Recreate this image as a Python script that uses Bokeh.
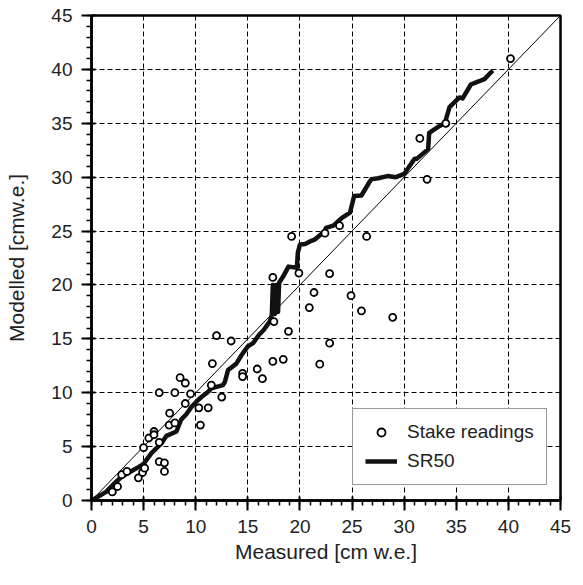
from bokeh.plotting import figure
from bokeh.models import SingleIntervalTicker, Legend, LegendItem, Range1d
from bokeh.embed import file_html
from bokeh.resources import INLINE

# Stake readings (measured, modelled) [cm w.e.]
stake_measured = [2.0, 2.5, 2.9, 3.4, 4.5, 4.9, 5.1, 5.0, 5.5, 6.0, 6.0, 6.5, 6.5, 7.0, 7.0,
                  7.5, 7.45, 8.0, 6.5, 8.0, 8.5, 9.0, 9.5, 9.0, 10.3, 10.45, 11.2, 11.5,
                  11.6, 12.0, 13.4, 12.5, 14.5, 14.5, 15.9, 16.4, 17.4, 18.4, 17.5, 18.9,
                  17.4, 19.9, 19.2, 21.35, 20.9, 22.85, 22.85, 21.9, 22.4, 23.8, 26.4, 24.9,
                  25.9, 28.9, 31.5, 32.2, 34.0, 40.2]
stake_modelled = [0.8, 1.3, 2.4, 2.7, 2.1, 2.6, 3.0, 4.9, 5.8, 6.4, 6.1, 5.4, 3.6, 3.5, 2.7,
                  8.1, 7.0, 7.2, 10.0, 10.0, 11.4, 10.9, 9.9, 9.0, 8.6, 7.0, 8.6, 10.7,
                  12.7, 15.3, 14.8, 9.6, 11.8, 11.5, 12.2, 11.3, 12.9, 13.1, 16.6, 15.7,
                  20.7, 21.1, 24.5, 19.3, 17.9, 21.05, 14.6, 12.65, 24.8, 25.5, 24.5, 19.0,
                  17.6, 17.0, 33.6, 29.8, 35.0, 41.0]

# SR50 continuous record (measured, modelled) [cm w.e.]
sr50_measured = [0.0, 0.7, 1.4, 2.2, 2.9, 3.6, 4.5, 5.0, 5.75, 6.7, 7.2, 8.15, 8.6, 9.1, 9.6,
                 10.2, 10.55, 11.2, 11.5, 12.6, 12.8, 13.1, 13.9, 14.4, 15.0, 15.5, 16.1,
                 16.5, 17.1, 17.3, 17.4, 17.6, 17.7, 17.9, 18.0, 18.4, 18.9, 19.7, 19.8,
                 20.0, 20.5, 21.1, 21.4, 22.4, 22.5, 23.2, 24.0, 24.8, 25.2, 25.9, 26.7,
                 26.85, 27.5, 28.4, 29.2, 30.0, 31.0, 31.2, 32.3, 32.4, 33.4, 33.9, 34.35,
                 35.3, 35.6, 36.4, 36.9, 37.2, 37.7, 38.5]
sr50_modelled = [0.0, 0.4, 0.8, 1.6, 2.2, 2.6, 3.1, 3.4, 4.4, 5.3, 6.0, 6.4, 7.5, 8.0, 8.7,
                 9.3, 9.6, 10.1, 10.4, 10.7, 11.0, 12.1, 12.7, 13.5, 14.3, 14.6, 15.4,
                 15.8, 16.6, 17.2, 20.0, 17.3, 20.0, 17.5, 20.2, 20.8, 21.7, 21.6, 23.0,
                 23.75, 23.8, 24.1, 24.2, 25.0, 25.3, 25.5, 26.2, 26.7, 28.25, 28.3, 29.6,
                 29.8, 29.9, 30.1, 30.0, 30.3, 31.7, 31.7, 32.6, 34.1, 34.75, 35.0, 36.5,
                 37.4, 37.3, 38.6, 38.8, 38.9, 39.1, 39.9]

one_to_one = [0, 45]
x_title = "Measured [cm w.e.]"
y_title = "Modelled [cmw.e.]"

FONT = "Liberation Sans"

p = figure(width=575, height=569,
           x_range=Range1d(0, 45), y_range=Range1d(0, 45),
           output_backend="svg", toolbar_location=None,
           min_border_left=91, min_border_right=15,
           min_border_top=15, min_border_bottom=69)

p.background_fill_color = "white"
p.border_fill_color = "white"
p.outline_line_color = "black"
p.outline_line_width = 2.5

for ax in (p.xaxis[0], p.yaxis[0]):
    ax.ticker = SingleIntervalTicker(interval=5, num_minor_ticks=5)
    ax.axis_line_width = 2.5
    ax.axis_line_color = "black"
    ax.major_tick_line_width = 2
    ax.major_tick_line_color = "black"
    ax.minor_tick_line_width = 1.5
    ax.minor_tick_line_color = "black"
    ax.major_tick_in = 4
    ax.major_tick_out = 10
    ax.minor_tick_in = 0
    ax.minor_tick_out = 5
    ax.major_label_text_font = FONT
    ax.major_label_text_font_size = "19px"
    ax.major_label_text_color = "#222222"
    ax.major_label_standoff = 9
    ax.axis_label_text_font = FONT
    ax.axis_label_text_font_size = "21px"
    ax.axis_label_text_font_style = "normal"
    ax.axis_label_text_color = "#222222"

p.xaxis.axis_label = x_title
p.xaxis.axis_label_standoff = 4
p.yaxis.axis_label = y_title
p.yaxis.axis_label_standoff = 20

for g in (p.xgrid[0], p.ygrid[0]):
    g.grid_line_color = "black"
    g.grid_line_width = 1
    g.grid_line_dash = "5 3"

p.line(one_to_one, one_to_one, line_color="black", line_width=1)
sr = p.line(sr50_measured, sr50_modelled, line_color="#111111", line_width=4.5,
            line_join="round")
st = p.scatter(stake_measured, stake_modelled, marker="circle", size=7,
               line_color="black", line_width=1.8, fill_color="white")

legend = Legend(items=[LegendItem(label="Stake readings", renderers=[st]),
                       LegendItem(label="SR50", renderers=[sr])],
                location=(261, 15), margin=0, padding=12, spacing=7,
                glyph_width=32, glyph_height=20, label_height=20, label_standoff=10,
                label_text_font=FONT, label_text_font_size="19px",
                label_text_color="#222222",
                border_line_color="#333333", border_line_width=1.5,
                background_fill_color="white", background_fill_alpha=1.0)
p.add_layout(legend, "center")

open("out.html", "w").write(file_html(p, INLINE))
